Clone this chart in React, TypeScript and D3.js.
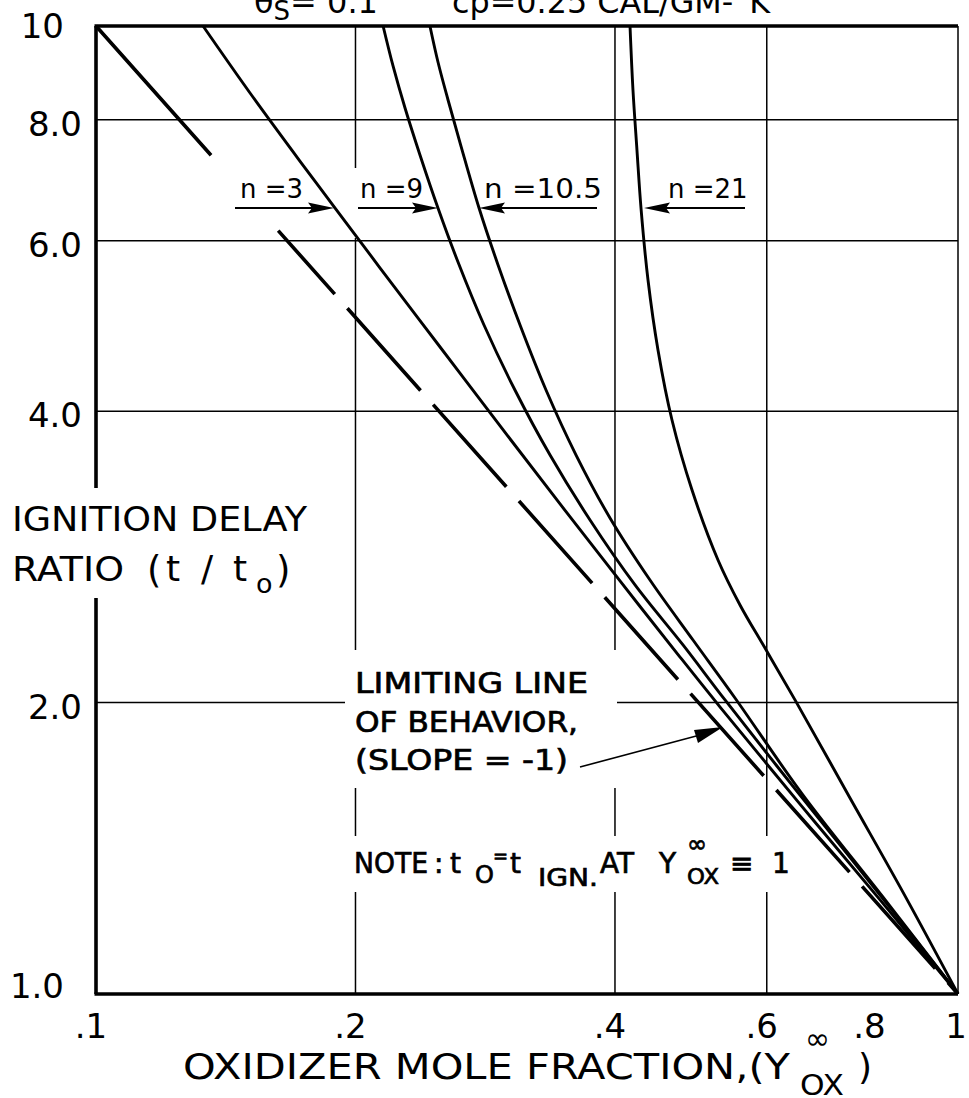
import React from 'react';
import * as d3 from 'd3';

const W = 969;
const H = 1098;

// Axis ticks
const xTicks = [0.1, 0.2, 0.4, 0.6, 0.8, 1];
const xTickLabels = ['.1', '.2', '.4', '.6', '.8', '1'];
const yTicks = [1, 2, 4, 6, 8, 10];
const yTickLabels = ['1.0', '2.0', '4.0', '6.0', '8.0', '10'];
const xGrid = [0.2, 0.4, 0.6];
const yGrid = [2, 4, 6, 8];

// Ignition delay ratio t/t0 against oxidizer mole fraction, one pair of arrays per n
const n3X = [0.1331, 0.1509, 0.1724, 0.1894, 0.2136, 0.2507, 0.2943, 0.3454, 0.4054, 0.4759, 0.5297, 0.6557, 0.8121, 1];
const n3Y = [10, 8.527, 7.253, 6.486, 5.623, 4.66, 3.862, 3.208, 2.671, 2.229, 1.979, 1.571, 1.251, 1];

const n9X = [0.2153, 0.2211, 0.2283, 0.2376, 0.2493, 0.263, 0.2819, 0.3062, 0.3363, 0.3742, 0.422, 0.4797, 0.5367, 0.6557, 0.8121, 1];
const n9Y = [10, 9.093, 8.228, 7.358, 6.486, 5.704, 4.91, 4.207, 3.604, 3.088, 2.646, 2.294, 2.0125, 1.605, 1.2656, 1];

const n105X = [0.244, 0.2493, 0.2561, 0.2651, 0.2782, 0.2927, 0.3104, 0.3327, 0.3605, 0.3947, 0.4392, 0.4927, 0.5512, 0.661, 0.8165, 1];
const n105Y = [10, 9.179, 8.386, 7.516, 6.486, 5.664, 4.91, 4.207, 3.604, 3.103, 2.677, 2.321, 2.022, 1.605, 1.2625, 1];

const n21X = [0.4164, 0.4197, 0.4242, 0.4288, 0.4369, 0.4487, 0.4658, 0.4914, 0.5267, 0.5586, 0.5972, 0.647, 0.7494, 0.868, 1];
const n21Y = [10, 8.588, 7.445, 6.486, 5.465, 4.627, 3.917, 3.316, 2.808, 2.523, 2.277, 2.013, 1.594, 1.263, 1];

// Limiting line of behavior, slope -1: t/t0 = 1/Y
const limX = [0.1, 1];
const limY = [10, 1];
// its long-dash pattern (drawn length units)
const limDash = [173, 101, 85, 19, 110, 19, 110, 19, 110, 19, 110, 19, 110, 19, 110, 19, 110, 19, 140];

const seriesList = [
  { name: 'n=3', xs: n3X, ys: n3Y },
  { name: 'n=9', xs: n9X, ys: n9Y },
  { name: 'n=10.5', xs: n105X, ys: n105Y },
  { name: 'n=21', xs: n21X, ys: n21Y },
];

const FONT = "'DejaVu Sans', 'Liberation Sans', sans-serif";

function Arrow({ x1, x2, y }: { x1: number; x2: number; y: number }) {
  const dir = x2 > x1 ? 1 : -1;
  const len = 26;
  const hw = 5.5;
  const bx = x2 - dir * len;
  return (
    <g>
      <line x1={x1} y1={y} x2={bx + dir * 4} y2={y} stroke="#000" strokeWidth={2.2} />
      <path d={`M${x2},${y} L${bx},${y - hw} L${bx + dir * 4},${y} L${bx},${y + hw} Z`} fill="#000" />
    </g>
  );
}

export default function App() {
  const x = d3.scaleLog().domain([0.1, 1]).range([96, 958]);
  const y = d3.scaleLog().domain([1, 10]).range([994, 26]);

  const line = d3
    .line<[number, number]>()
    .x((d) => x(d[0]))
    .y((d) => y(d[1]))
    .curve(d3.curveCatmullRom.alpha(0.5));

  const straight = d3
    .line<[number, number]>()
    .x((d) => x(d[0]))
    .y((d) => y(d[1]));

  const limPts: [number, number][] = limX.map((v, i) => [v, limY[i]]);
  const arrowY = y(6.486);

  const heavy = { stroke: '#000', strokeWidth: 0.7 };

  return (
    <svg
      width={W}
      height={H}
      style={{ position: 'absolute', left: 0, top: 0, background: '#fff' }}
      fontFamily={FONT}
    >
      <rect x={0} y={0} width={W} height={H} fill="#fff" />

      {/* header line running off the top edge */}
      <text x={254} y={13} fontSize={32} fill="#000">
        θ<tspan dy={7} fontSize={26}>S</tspan>
        <tspan dy={-7}>= 0.1</tspan>
      </text>
      <text x={452} y={13} fontSize={32} fill="#000" textLength={318} lengthAdjust="spacingAndGlyphs">
        cp=0.25 CAL/GM-°K
      </text>

      {/* grid */}
      {xGrid.map((g) => (
        <line key={'gx' + g} x1={x(g)} x2={x(g)} y1={y(10)} y2={y(1)} stroke="#000" strokeWidth={1.5} />
      ))}
      {yGrid.map((g) => (
        <line key={'gy' + g} x1={x(0.1)} x2={x(1)} y1={y(g)} y2={y(g)} stroke="#000" strokeWidth={1.5} />
      ))}
      <line x1={x(1)} x2={x(1)} y1={y(10)} y2={y(1)} stroke="#000" strokeWidth={1.5} />

      {/* limiting line */}
      <path
        d={straight(limPts) || ''}
        fill="none"
        stroke="#000"
        strokeWidth={3.6}
        strokeDasharray={limDash.join(' ')}
      />

      {/* clear areas behind annotation blocks */}
      <rect x={348} y={168} width={80} height={70} fill="#fff" />
      <rect x={345} y={650} width={272} height={138} fill="#fff" />
      <rect x={345} y={836} width={445} height={56} fill="#fff" />
      <rect x={0} y={488} width={315} height={110} fill="#fff" />

      {/* curves */}
      {seriesList.map((s) => (
        <path
          key={s.name}
          d={line(s.xs.map((v, i) => [v, s.ys[i]] as [number, number])) || ''}
          fill="none"
          stroke="#000"
          strokeWidth={2.9}
        />
      ))}

      {/* frame: left, bottom, top */}
      <line x1={x(0.1)} x2={x(0.1)} y1={y(10)} y2={488} stroke="#000" strokeWidth={3.6} />
      <line x1={x(0.1)} x2={x(0.1)} y1={598} y2={y(1)} stroke="#000" strokeWidth={3.6} />
      <line x1={x(0.1) - 1.5} x2={x(1)} y1={y(1)} y2={y(1)} stroke="#000" strokeWidth={3.6} />
      <line x1={x(0.1) - 1.5} x2={x(1)} y1={y(10)} y2={y(10)} stroke="#000" strokeWidth={3.6} />

      {/* tick labels */}
      {yTicks.map((t, i) => {
        const edge = t === 10 || t === 1;
        return (
          <text
            key={'yt' + t}
            x={edge ? 64 : 82}
            y={t === 10 ? y(t) + 12 : t === 1 ? y(t) + 4 : y(t) + 16}
            fontSize={34}
            textAnchor="end"
            fill="#000"
          >
            {yTickLabels[i]}
          </text>
        );
      })}
      {xTicks.map((t, i) => (
        <text key={'xt' + t} x={x(t) + (t === 1 ? -2 : -5)} y={1038} fontSize={34} textAnchor="middle" fill="#000">
          {xTickLabels[i]}
        </text>
      ))}

      {/* axis titles */}
      <text x={183} y={1079} fontSize={36} fill="#000" textLength={607} lengthAdjust="spacingAndGlyphs">
        OXIDIZER MOLE FRACTION,(Y
      </text>
      <text x={805} y={1049} fontSize={30} fill="#000">
        ∞
      </text>
      <text x={800} y={1095} fontSize={29} fill="#000" textLength={44} lengthAdjust="spacingAndGlyphs">
        OX
      </text>
      <text x={858} y={1079} fontSize={36} fill="#000">
        )
      </text>

      <g fontSize={34} fill="#000">
        <text x={12} y={531} textLength={295} lengthAdjust="spacingAndGlyphs">IGNITION DELAY</text>
        <text x={12} y={581} textLength={112} lengthAdjust="spacingAndGlyphs">RATIO</text>
        <text x={147} y={583} fontSize={37}>(</text>
        <text x={166} y={581} fontSize={36}>t</text>
        <text x={201} y={581} fontSize={36}>/</text>
        <text x={233} y={581} fontSize={36}>t</text>
        <text x={256} y={593} fontSize={27}>o</text>
        <text x={276} y={583} fontSize={37}>)</text>
      </g>

      {/* curve labels with arrows */}
      <text x={240} y={198} fontSize={26} fill="#000">n =3</text>
      <Arrow x1={235} x2={334} y={arrowY} />
      <text x={360} y={198} fontSize={26} fill="#000">n =9</text>
      <Arrow x1={358} x2={438} y={arrowY} />
      <text x={484} y={198} fontSize={26} fill="#000" textLength={118} lengthAdjust="spacingAndGlyphs">n =10.5</text>
      <Arrow x1={597} x2={479} y={arrowY} />
      <text x={668} y={198} fontSize={26} fill="#000">n =21</text>
      <Arrow x1={745} x2={644} y={arrowY} />

      {/* limiting line note */}
      <g fontSize={28} fill="#000" {...heavy}>
        <text x={355} y={693} textLength={233} lengthAdjust="spacingAndGlyphs">LIMITING LINE</text>
        <text x={355} y={732} textLength={223} lengthAdjust="spacingAndGlyphs">OF BEHAVIOR,</text>
        <text x={355} y={770} textLength={213} lengthAdjust="spacingAndGlyphs">(SLOPE = -1)</text>
      </g>
      <line x1={580} y1={767} x2={700} y2={735} stroke="#000" strokeWidth={1.6} />
      <path d="M723,727 L694,730 L698,743 Z" fill="#000" />

      {/* note on t0 */}
      <g fill="#000" {...heavy}>
        <text x={354} y={873} fontSize={28} textLength={74} lengthAdjust="spacingAndGlyphs">NOTE</text>
        <text x={434} y={873} fontSize={28}>:</text>
        <text x={450} y={873} fontSize={28}>t</text>
        <text x={475} y={883} fontSize={24}>O</text>
        <text x={493} y={862} fontSize={18}>=</text>
        <text x={510} y={873} fontSize={28}>t</text>
        <text x={538} y={886} fontSize={24} textLength={60} lengthAdjust="spacingAndGlyphs">IGN.</text>
        <text x={600} y={873} fontSize={28} textLength={34} lengthAdjust="spacingAndGlyphs">AT</text>
        <text x={659} y={873} fontSize={28}>Y</text>
        <text x={687} y={852} fontSize={24}>∞</text>
        <text x={687} y={884} fontSize={22} textLength={32} lengthAdjust="spacingAndGlyphs">OX</text>
        <text x={730} y={873} fontSize={28}>≡</text>
        <text x={772} y={873} fontSize={28}>1</text>
      </g>
    </svg>
  );
}
